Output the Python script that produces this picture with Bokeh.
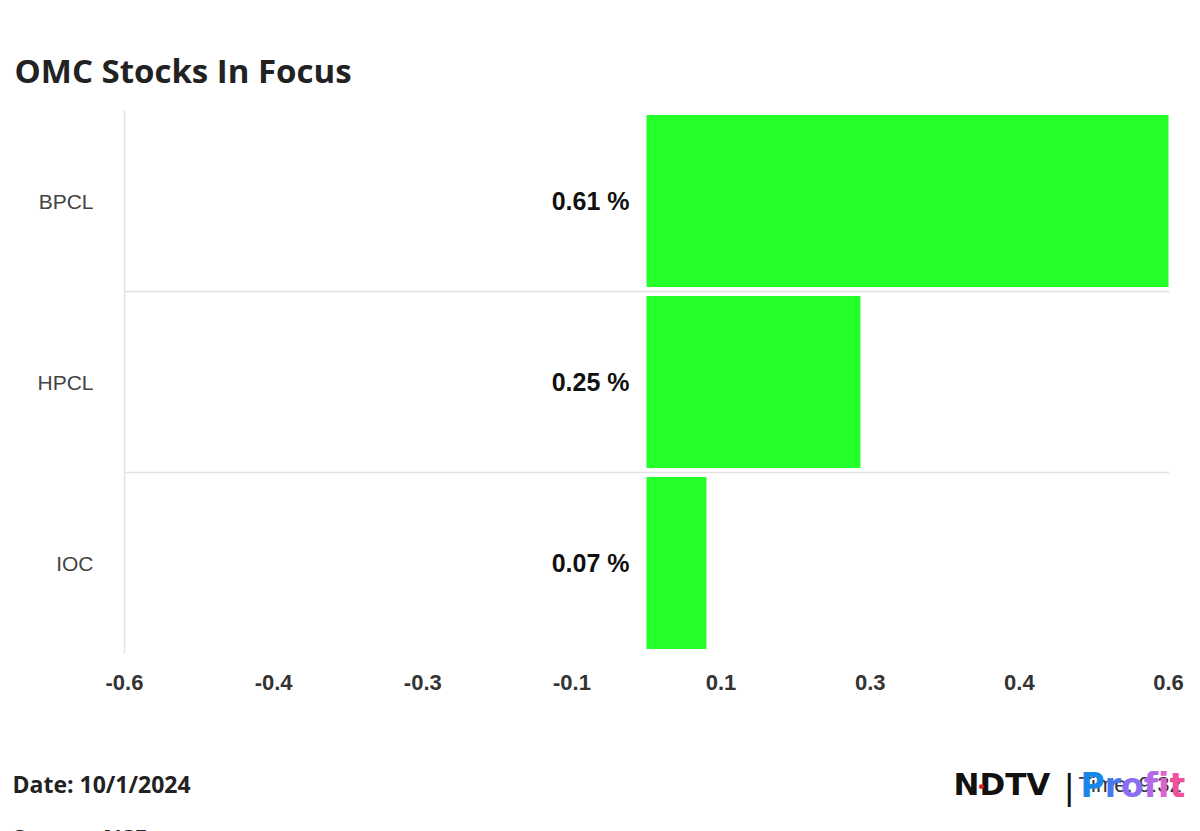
import numpy as np
from bokeh.plotting import figure
from bokeh.layouts import column
from bokeh.models import ColumnDataSource, Range1d, FixedTicker, Label
from bokeh.core.properties import value
from bokeh.embed import file_html
from bokeh.resources import INLINE

# ---- data ----
stocks = ["BPCL", "HPCL", "IOC"]
changes = [0.61, 0.25, 0.07]
x_tick_labels = ["-0.6", "-0.4", "-0.3", "-0.1", "0.1", "0.3", "0.4", "0.6"]
title_text = "OMC Stocks In Focus"
date_text = "Date: 10/1/2024"
source_text = "Source: NSE"
time_text = "Time: 9:32"

W = 1200
TOP_H = 100          # header figure height
MAIN_H = 640         # chart figure height
FL, FR, FT, FB = 124, 1169, 110, 653  # frame edges in page px


def blank(y0, h):
    f = figure(width=W, height=h, output_backend="svg", toolbar_location=None,
               x_range=Range1d(0, W), y_range=Range1d(y0 + h, y0),
               x_axis_location=None, y_axis_location=None,
               min_border=0, min_border_left=0, min_border_right=0,
               min_border_top=0, min_border_bottom=0)
    f.frame_align = False
    f.grid.visible = False
    f.outline_line_color = None
    f.background_fill_color = "white"
    f.border_fill_color = "white"
    return f


def lab(f, text, x, y, size, font="Open Sans", style="bold", color="#222222",
        align="left"):
    # y: desired baseline in page px (compensate renderer baseline shift)
    f.add_layout(Label(x=x, y=y - 0.42 * size, text=text, text_font=font,
                       text_font_style=style, text_font_size=f"{size}px",
                       text_color=color, text_align=align,
                       text_baseline="alphabetic"))


# ---- header ----
head = blank(0, TOP_H)
lab(head, title_text, 14, 84, 33)

# ---- main chart ----
n = len(stocks)
ys = [n - 1 - i + 0.5 for i in range(n)]
labels = [f"{v:.2f} %" for v in changes]
src = ColumnDataSource(dict(y=ys, right=changes, left=[0] * n, label=labels,
                            zero=[0] * n))

x_max = max(changes)
x_end = x_max + 2 * x_max / (FR - FL - 1)
p = figure(width=W, height=MAIN_H, output_backend="svg", toolbar_location=None,
           x_range=Range1d(-x_max, x_end), y_range=Range1d(0, n),
           min_border_left=FL, min_border_right=W - FR,
           min_border_top=FT - TOP_H,
           min_border_bottom=TOP_H + MAIN_H - FB)
p.frame_align = False
p.title = None
p.outline_line_color = None
p.background_fill_color = "white"
p.border_fill_color = "white"

p.hbar(y="y", left="left", right="right", height=0.95, source=src,
       color="#24ff29", line_color=None)

p.text(x="zero", y="y", text="label", source=src, x_offset=-17,
       text_align="right", text_baseline="middle",
       text_font=value("Liberation Sans"), text_font_style="bold",
       text_font_size="25px", text_color="#111111")

ticks = list(np.linspace(-x_max, x_max, len(x_tick_labels)))
p.xaxis.ticker = FixedTicker(ticks=ticks)
p.xaxis.major_label_overrides = {t: l for t, l in zip(ticks, x_tick_labels)}
p.xaxis.axis_line_color = None
p.xaxis.major_tick_line_color = None
p.xaxis.minor_tick_line_color = None
p.xaxis.major_tick_out = 0
p.xaxis.major_label_standoff = 21
p.xaxis.major_label_text_font = "Liberation Sans"
p.xaxis.major_label_text_font_style = "bold"
p.xaxis.major_label_text_font_size = "22px"
p.xaxis.major_label_text_color = "#333333"
p.xgrid.visible = False

p.yaxis.ticker = FixedTicker(ticks=ys)
p.yaxis.major_label_overrides = {y: s for y, s in zip(ys, stocks)}
p.yaxis.axis_line_color = "#e2e2e2"
p.yaxis.axis_line_width = 1.5
p.yaxis.major_tick_line_color = None
p.yaxis.minor_tick_line_color = None
p.yaxis.major_tick_out = 0
p.yaxis.major_label_standoff = 31
p.yaxis.major_label_text_font = "Liberation Sans"
p.yaxis.major_label_text_font_size = "21px"
p.yaxis.major_label_text_color = "#444444"
p.ygrid.ticker = FixedTicker(ticks=list(range(n + 1)))
p.ygrid.grid_line_color = "#e2e2e2"
p.ygrid.grid_line_width = 1.5

# ---- footer ----
y0 = TOP_H + MAIN_H
foot = blank(y0, 831 - y0)
lab(foot, date_text, 12, 793, 23)
lab(foot, source_text, 12, 847, 23)
lab(foot, "NDTV", 953, 797, 31, font="DejaVu Sans", color="#111111")
lab(foot, "\u2022", 976, 794, 16, font="DejaVu Sans", style="normal",
    color="#e21b1b")
lab(foot, "|", 1063, 801, 34, font="DejaVu Sans", style="normal",
    color="#111111")
lab(foot, time_text, 1078, 793, 22, font="Liberation Sans",
    style="normal", color="#333333")
letters = ["P", "r", "o", "f", "i", "t"]
adv = [24.2, 16.3, 22.7, 14.4, 11.3, 15.8]
cols = ["#1a86ea", "#4a78ee", "#8a6ff0", "#b46ae6", "#dc62cc", "#f0509c"]
xx = 1080
for ch, a, c in zip(letters, adv, cols):
    lab(foot, ch, xx, 799, 33, font="DejaVu Sans", color=c)
    xx += a

layout = column(head, p, foot, spacing=0)
open("out.html", "w").write(file_html(layout, INLINE))
